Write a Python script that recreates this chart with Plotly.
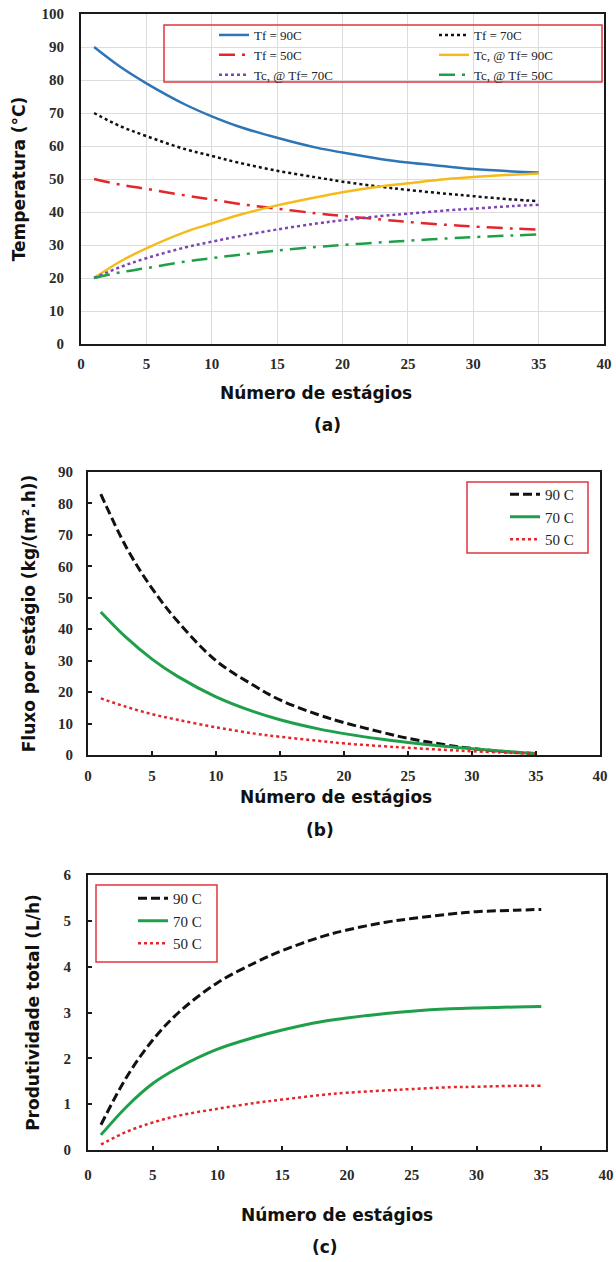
import plotly.graph_objects as go

W, H = 616, 1262

# ---- (a) temperature profiles along the stages ----
stages_a = [1, 3, 5, 8, 10, 12, 15, 18, 20, 23, 25, 28, 30, 33, 35]
tf_90 = [90, 84, 79, 72.5, 69, 66, 62.5, 59.5, 58, 56, 55, 53.8, 53, 52.3, 52]
tf_70 = [70, 66, 63, 59, 57, 55, 52.5, 50.5, 49.2, 47.6, 46.7, 45.5, 44.8, 43.8, 43.3]
tf_50 = [50, 48.3, 47, 45, 43.8, 42.5, 41, 39.6, 38.8, 37.7, 37, 36.1, 35.6, 35, 34.7]
tc_90 = [20, 25, 29, 34, 36.5, 39, 42, 44.5, 46, 47.8, 48.7, 50, 50.6, 51.3, 51.7]
tc_70 = [20, 23.3, 26, 29.3, 31, 32.6, 34.7, 36.5, 37.5, 38.8, 39.5, 40.5, 41, 41.8, 42.2]
tc_50 = [20, 21.7, 23, 25, 26, 27, 28.3, 29.4, 30, 30.8, 31.3, 32, 32.4, 32.9, 33.2]

# ---- (b) permeate flux per stage ----
stages_b = [1, 3, 5, 7, 10, 13, 15, 18, 20, 23, 25, 28, 30, 33, 35]
flux_90 = [83, 66, 53, 42.5, 30, 22, 17.5, 12.8, 10.3, 7.2, 5.3, 3.2, 2.1, 0.9, 0.5]
flux_70 = [45.5, 37.3, 30.5, 25, 18.5, 13.7, 11.2, 8.3, 6.8, 5.0, 4.0, 2.7, 2.0, 1.0, 0.4]
flux_50 = [18, 15.3, 13, 11.2, 8.8, 6.8, 5.8, 4.5, 3.7, 2.8, 2.3, 1.6, 1.2, 0.7, 0.4]

# ---- (c) cumulative productivity ----
stages_c = [1, 3, 5, 7, 10, 13, 15, 18, 20, 23, 25, 28, 30, 33, 35]
prod_90 = [0.55, 1.6, 2.4, 3.0, 3.65, 4.1, 4.35, 4.65, 4.8, 4.97, 5.05, 5.15, 5.2, 5.23, 5.25]
prod_70 = [0.33, 0.95, 1.45, 1.8, 2.2, 2.47, 2.62, 2.8, 2.88, 2.98, 3.03, 3.08, 3.1, 3.12, 3.13]
prod_50 = [0.12, 0.4, 0.6, 0.75, 0.9, 1.03, 1.1, 1.2, 1.25, 1.3, 1.33, 1.37, 1.38, 1.4, 1.4]

labels_a = ["Tf = 90C", "Tf = 70C", "Tf = 50C", "Tc, @ Tf= 90C", "Tc, @ Tf= 70C", "Tc, @ Tf= 50C"]
labels_bc = ["90 C", "70 C", "50 C"]
x_title = "Número de estágios"
y_titles = ["Temperatura (°C)", "Fluxo por estágio (kg/(m².h))", "Produtividade total (L/h)"]
panel_tags = ["(a)", "(b)", "(c)"]

BLUE = "#2e75b6"
RED = "#e3262b"
GOLD = "#f5bb1c"
PURPLE = "#7d44b5"
GREEN = "#1f9f4a"
BLACK = "#111111"
BOX_RED = "#e0363c"
AXIS = "#1a1a1a"

TICK_FONT = dict(family="Liberation Serif", size=15, color="#2a2a2a", weight="bold")
TITLE_FONT = dict(family="DejaVu Sans", size=17, color="#111111", weight="bold")
XTITLE_FONT = dict(family="DejaVu Sans", size=17, color="#111111", weight="bold")
LEG_FONT = dict(family="Liberation Serif", size=13, color="#222222")
LEG_FONT_BC = dict(family="Liberation Serif", size=15, color="#222222")


def px_x(v):
    return v / W


def px_y(v):
    return 1 - v / H


def xdom(left, right):
    return [px_x(left), px_x(right)]


def ydom(top, bottom):
    return [px_y(bottom), px_y(top)]


fig = go.Figure()

# the six temperature curves; the legend of (a) is split in two columns
series_a = [
    (tf_90, BLUE, "solid", "legend"),
    (tf_70, BLACK, "dot", "legend4"),
    (tf_50, RED, "16px,7px,3px,7px", "legend"),
    (tc_90, GOLD, "solid", "legend4"),
    (tc_70, PURPLE, "dot", "legend"),
    (tc_50, GREEN, "16px,7px,3px,7px", "legend4"),
]
for (ys, color, dash, leg), name in zip(series_a, labels_a):
    fig.add_trace(go.Scatter(
        x=stages_a, y=ys, name=name, mode="lines", line_shape="spline",
        line=dict(color=color, width=2.5, dash=dash),
        xaxis="x", yaxis="y", legend=leg,
    ))

styles_bc = [(BLACK, "9px,4px", 3), (GREEN, "solid", 3), (RED, "dot", 2.5)]
for ys, name, (color, dash, w) in zip([flux_90, flux_70, flux_50], labels_bc, styles_bc):
    fig.add_trace(go.Scatter(
        x=stages_b, y=ys, name=name, mode="lines", line_shape="spline",
        line=dict(color=color, width=w, dash=dash),
        xaxis="x2", yaxis="y2", legend="legend2",
    ))
for ys, name, (color, dash, w) in zip([prod_90, prod_70, prod_50], labels_bc, styles_bc):
    fig.add_trace(go.Scatter(
        x=stages_c, y=ys, name=name, mode="lines", line_shape="spline",
        line=dict(color=color, width=w, dash=dash),
        xaxis="x3", yaxis="y3", legend="legend3",
    ))

frame = dict(showline=True, mirror=True, linecolor=AXIS, linewidth=2,
             tickfont=TICK_FONT, zeroline=False, automargin=False)
inside_ticks = dict(ticks="inside", ticklen=4, tickwidth=2, tickcolor=AXIS, showgrid=False)
leg_common = dict(xanchor="left", yanchor="top", bgcolor="rgba(255,255,255,0)")

fig.update_layout(
    width=W, height=H, margin=dict(l=0, r=0, t=0, b=0, autoexpand=False),
    paper_bgcolor="white", plot_bgcolor="white",
    xaxis=dict(domain=xdom(81, 604), range=[0, 40], dtick=5, anchor="y",
               showgrid=True, gridcolor="#dcdcdc", gridwidth=1, ticks="",
               ticklabelstandoff=5, **frame),
    yaxis=dict(domain=ydom(14, 344), range=[0, 100], dtick=10, anchor="x",
               showgrid=True, gridcolor="#dcdcdc", gridwidth=1, ticks="",
               ticklabelstandoff=12,
               title=dict(text=y_titles[0], font=TITLE_FONT, standoff=12), **frame),
    xaxis2=dict(domain=xdom(88, 600), range=[0, 40], dtick=5, anchor="y2",
                ticklabelstandoff=6, **inside_ticks, **frame),
    yaxis2=dict(domain=ydom(472, 755), range=[0, 90], dtick=10, anchor="x2",
                ticklabelstandoff=10,
                title=dict(text=y_titles[1], font=TITLE_FONT, standoff=18),
                **inside_ticks, **frame),
    xaxis3=dict(domain=xdom(88, 606), range=[0, 40], dtick=5, anchor="y3",
                ticklabelstandoff=10, **inside_ticks, **frame),
    yaxis3=dict(domain=ydom(875, 1150), range=[0, 6], dtick=1, anchor="x3",
                ticklabelstandoff=12,
                title=dict(text=y_titles[2], font=TITLE_FONT, standoff=20),
                **inside_ticks, **frame),
    legend=dict(x=px_x(214), y=px_y(20), font=LEG_FONT, **leg_common),
    legend4=dict(x=px_x(434), y=px_y(20), font=LEG_FONT, **leg_common),
    legend2=dict(x=px_x(505), y=px_y(478), font=LEG_FONT_BC, **leg_common),
    legend3=dict(x=px_x(133), y=px_y(882), font=LEG_FONT_BC, **leg_common),
)

# red frames around the legends
for x0, y0, x1, y1 in [(164, 25, 602, 82), (467, 482, 588, 553), (96, 885, 217, 962)]:
    fig.add_shape(type="rect", xref="paper", yref="paper",
                  x0=px_x(x0), x1=px_x(x1), y0=px_y(y1), y1=px_y(y0),
                  line=dict(color=BOX_RED, width=1.5))

# x-axis titles and panel tags
for (tx, ty), (lx, ly), tag in zip([(316, 393), (336, 797), (337, 1215)],
                                   [(327, 425), (320, 830), (325, 1247)], panel_tags):
    fig.add_annotation(text=x_title, xref="paper", yref="paper", x=px_x(tx), y=px_y(ty),
                       xanchor="center", yanchor="middle", showarrow=False, font=XTITLE_FONT)
    fig.add_annotation(text=tag, xref="paper", yref="paper", x=px_x(lx), y=px_y(ly),
                       xanchor="center", yanchor="middle", showarrow=False, font=XTITLE_FONT)

fig.write_html("out.html")
